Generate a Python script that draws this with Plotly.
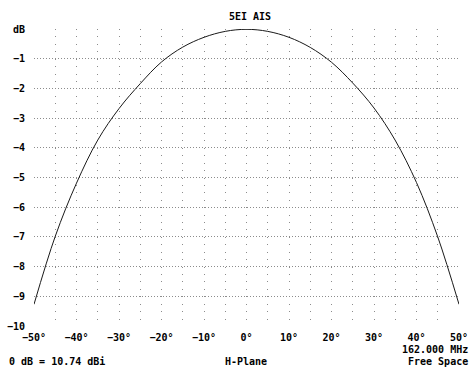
import plotly.graph_objects as go

# Data
angles = [-50, -45, -40, -35, -30, -25, -20, -15, -10, -5, 0, 5, 10, 15, 20, 25, 30, 35, 40, 45, 50]
gain_db = [-9.27, -6.98, -5.19, -3.74, -2.68, -1.84, -1.11, -0.61, -0.28, -0.08, -0.01,
           -0.08, -0.28, -0.62, -1.12, -1.82, -2.66, -3.75, -5.17, -7.00, -9.27]

x_tickvals = [-50, -40, -30, -20, -10, 0, 10, 20, 30, 40, 50]
x_ticktext = ["−50°", "−40°", "−30°", "−20°", "−10°", "0°", "10°", "20°", "30°", "40°", "50°"]
y_tickvals = [0, -1, -2, -3, -4, -5, -6, -7, -8, -9, -10]
y_ticktext = ["dB", "−1", "−2", "−3", "−4", "−5", "−6", "−7", "−8", "−9", "−10"]
grid_step_deg = 5

title_text = "5EI AIS"
gain_ref = "0 dB = 10.74 dBi"
plane = "H-Plane"
freq = "162.000 MHz"
env = "Free Space"

W, H = 473, 370
L, R, T, B = 34, 14, 29, 44
pw, ph = W - L - R, H - T - B

FONT = "DejaVu Sans Mono"
GRID = "#8c8c8c"

fig = go.Figure()
fig.add_trace(go.Scatter(x=angles, y=gain_db, mode="lines",
                         line=dict(color="#1a1a1a", width=1, shape="spline", smoothing=1.0),
                         hoverinfo="skip", showlegend=False))

grid_vals = list(range(-50, 55, grid_step_deg))
grid_text = [x_ticktext[x_tickvals.index(v)] if v in x_tickvals else "" for v in grid_vals]

fig.update_layout(
    width=W, height=H,
    margin=dict(l=L, r=R, t=T, b=B, pad=0, autoexpand=False),
    paper_bgcolor="white", plot_bgcolor="white",
    font=dict(family=FONT, size=10, color="black"),
    showlegend=False,
    xaxis=dict(range=[-50, 50], tickmode="array", tickvals=grid_vals,
               ticktext=["<b>%s</b>" % t if t else "" for t in grid_text],
               showgrid=True, gridcolor=GRID, gridwidth=1,
               griddash="1px,%.3fpx" % (ph / 40 - 1),
               zeroline=False, showline=False, ticks="", ticklabelstandoff=4,
               automargin=False, fixedrange=True),
    yaxis=dict(range=[-10, 0], tickmode="array", tickvals=y_tickvals,
               ticktext=["<b>%s</b>" % t for t in y_ticktext],
               showgrid=True, gridcolor=GRID, gridwidth=1, griddash="1px,2px",
               zeroline=False, showline=False, ticks="", ticklabelstandoff=8,
               automargin=False, fixedrange=True),
)

def px2paper(px, py):
    return (px - L) / pw, (H - B - py) / ph

anns = [
    (title_text, 250, 17, "center"),
    (gain_ref, 7, 361, "left"),
    (plane, 246, 361, "center"),
    (freq, 470, 349, "right"),
    (env, 470, 361, "right"),
]
for txt, px, py, anchor in anns:
    ax_, ay_ = px2paper(px, py)
    fig.add_annotation(text="<b>%s</b>" % txt, x=ax_, y=ay_, xref="paper", yref="paper",
                       xanchor=anchor, yanchor="middle", showarrow=False,
                       font=dict(family=FONT, size=10, color="black"))

fig.write_html("out.html", config={"displayModeBar": False})
